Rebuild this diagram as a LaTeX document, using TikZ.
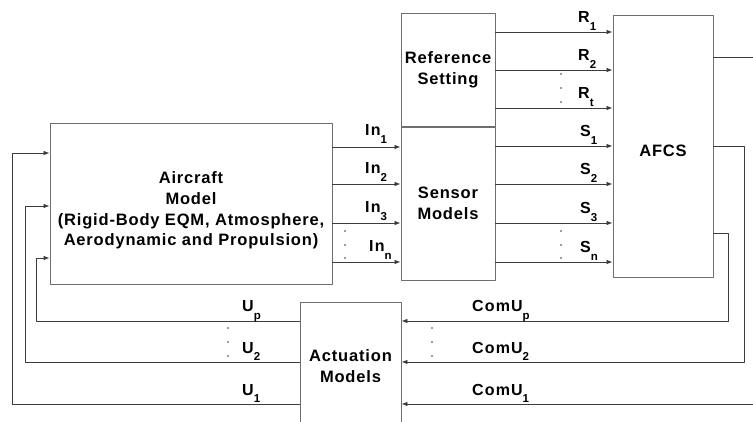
\documentclass[tikz,border=0pt]{standalone}
\usepackage{fontspec}
\setmainfont{Liberation Sans}
\newfontfamily\blockfont{Liberation Sans}[LetterSpace=5]
\newfontfamily\sigfont{Liberation Sans}[LetterSpace=7]
\usetikzlibrary{arrows.meta,calc,positioning}
\definecolor{afcsLine}{HTML}{3C3C3C}
\definecolor{afcsFrame}{HTML}{6E6E6E}
\newcommand\lowsub[1]{\raisebox{-7.5pt}{\fontsize{11.5}{11.5}\selectfont #1}}

\begin{document}
\begin{tikzpicture}[x=1pt,y=-1pt,>={Latex[length=6pt,width=4.5pt]},line cap=round,line join=round]
\useasboundingbox[fill=white] (0,0) rectangle (753,422);
\tikzset{blockbox/.style={draw=afcsFrame,line width=0.9pt,fill=white,align=center,inner sep=0pt,font=\blockfont\fontsize{16.5}{20.7}\selectfont\bfseries},sig/.style={draw=afcsLine,line width=0.8pt},siglabel/.style={anchor=base west,inner sep=0pt,font=\sigfont\fontsize{16}{16}\selectfont\bfseries},dotmark/.style={fill=afcsLine}}
% blocks
\node[blockbox,minimum width=282pt,minimum height=161pt] (air) at (191,203.5) {\rule{0pt}{26pt}Aircraft\\Model\\(Rigid-Body EQM, Atmosphere,\\Aerodynamic and Propulsion)};
\node[blockbox,minimum width=94pt,minimum height=113pt] (ref) at (448,69.5) {Reference\\Setting};
\node[blockbox,minimum width=94pt,minimum height=153pt] (sen) at (448,203.5) {Sensor\\Models};
\node[blockbox,minimum width=100pt,minimum height=262pt] (afcs) at (663,146) {\rule{0pt}{22pt}AFCS};
\node[blockbox,minimum width=101pt,minimum height=128pt] (act) at (350.5,366) {Actuation\\Models};
% aircraft -> sensors
\draw[sig,->] (air.east |- 0,147) -- (sen.west |- 0,147); \draw[sig,->] (air.east |- 0,184) -- (sen.west |- 0,184); \draw[sig,->] (air.east |- 0,223) -- (sen.west |- 0,223); \draw[sig,->] (air.east |- 0,262) -- (sen.west |- 0,262);
\node[siglabel] at (365,136) {In\lowsub{1}}; \node[siglabel] at (365,174) {In\lowsub{2}}; \node[siglabel] at (365,213) {In\lowsub{3}}; \node[siglabel] at (369,252) {In\lowsub{n}};
\fill[dotmark] (345,231) circle (0.8); \fill[dotmark] (345,245) circle (0.8); \fill[dotmark] (345,258) circle (0.8);
% reference -> afcs
\draw[sig,->] (ref.east |- 0,32) -- (afcs.west |- 0,32); \draw[sig,->] (ref.east |- 0,70) -- (afcs.west |- 0,70); \draw[sig,->] (ref.east |- 0,108) -- (afcs.west |- 0,108);
\node[siglabel] at (578,23) {R\lowsub{1}}; \node[siglabel] at (578,61) {R\lowsub{2}}; \node[siglabel] at (578,99) {R\lowsub{t}};
\fill[dotmark] (561,74) circle (0.8); \fill[dotmark] (561,88) circle (0.8); \fill[dotmark] (561,102) circle (0.8);
% sensors -> afcs
\draw[sig,->] (sen.east |- 0,146) -- (afcs.west |- 0,146); \draw[sig,->] (sen.east |- 0,184) -- (afcs.west |- 0,184); \draw[sig,->] (sen.east |- 0,223) -- (afcs.west |- 0,223); \draw[sig,->] (sen.east |- 0,262) -- (afcs.west |- 0,262);
\node[siglabel] at (580,137) {S\lowsub{1}}; \node[siglabel] at (580,175) {S\lowsub{2}}; \node[siglabel] at (580,214) {S\lowsub{3}}; \node[siglabel] at (580,253) {S\lowsub{n}};
\fill[dotmark] (561,231) circle (0.8); \fill[dotmark] (561,245) circle (0.8); \fill[dotmark] (561,258) circle (0.8);
% afcs -> actuation
\draw[sig,->] (afcs.east |- 0,57) -| (760,404) -- (act.east |- 0,404);
\draw[sig,->] (afcs.east |- 0,146) -| (744,362) -- (act.east |- 0,362);
\draw[sig,->] (afcs.east |- 0,233) -| (728,321) -- (act.east |- 0,321);
\node[siglabel] at (472,312) {ComU\lowsub{p}}; \node[siglabel] at (472,353) {ComU\lowsub{2}}; \node[siglabel] at (472,395) {ComU\lowsub{1}};
\fill[dotmark] (432,328) circle (0.8); \fill[dotmark] (432,342) circle (0.8); \fill[dotmark] (432,356) circle (0.8);
% actuation -> aircraft
\draw[sig,->] (act.west |- 0,404) -| (12,153) -- (air.west |- 0,153);
\draw[sig,->] (act.west |- 0,362) -| (25,206) -- (air.west |- 0,206);
\draw[sig,->] (act.west |- 0,321) -| (36,258) -- (air.west |- 0,258);
\node[siglabel] at (242,312) {U\lowsub{p}}; \node[siglabel] at (242,353) {U\lowsub{2}}; \node[siglabel] at (242,395) {U\lowsub{1}};
\fill[dotmark] (228,328) circle (0.8); \fill[dotmark] (228,342) circle (0.8); \fill[dotmark] (228,356) circle (0.8);
\end{tikzpicture}
\end{document}
